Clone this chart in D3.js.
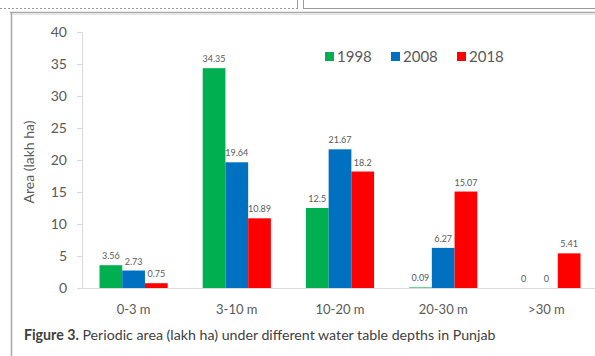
<!DOCTYPE html>
<html>
<head>
<meta charset="utf-8">
<script src="https://cdn.jsdelivr.net/npm/d3@7/dist/d3.min.js"></script>
<style>
  html, body { margin: 0; padding: 0; background: #fff; }
  svg { display: block; }
</style>
</head>
<body>
<svg id="chart" width="595" height="356"></svg>
<script>
// Water table depth classes and area (lakh ha) per survey year
const depths = ["0-3 m", "3-10 m", "10-20 m", "20-30 m", ">30 m"];
const years = ["1998", "2008", "2018"];
const area1998 = [3.56, 34.35, 12.5, 0.09, 0];
const area2008 = [2.73, 19.64, 21.67, 6.27, 0];
const area2018 = [0.75, 10.89, 18.2, 15.07, 5.41];
const yTicks = [0, 5, 10, 15, 20, 25, 30, 35, 40];
const seriesColors = ["#00b050", "#0070c0", "#ff0000"];

const values = [area1998, area2008, area2018];
const rows = depths.map((d, i) => ({
  depth: d,
  bars: years.map((y, j) => ({ year: y, value: values[j][i], color: seriesColors[j] }))
}));

const svg = d3.select("#chart");
const font = "Lato, 'Open Sans', sans-serif";

// page frame lines
const frame = svg.append("g").attr("fill", "none");
frame.append("line").attr("x1", 0).attr("x2", 297).attr("y1", 8.5).attr("y2", 8.5)
  .attr("stroke", "#9a9a9a").attr("stroke-dasharray", "2,2");
frame.append("line").attr("x1", 297.5).attr("x2", 297.5).attr("y1", 0).attr("y2", 9)
  .attr("stroke", "#9a9a9a");
frame.append("line").attr("x1", 303.5).attr("x2", 303.5).attr("y1", 0).attr("y2", 9)
  .attr("stroke", "#9a9a9a");
frame.append("line").attr("x1", 303).attr("x2", 595).attr("y1", 8.5).attr("y2", 8.5)
  .attr("stroke", "#9a9a9a");
frame.append("line").attr("x1", 10).attr("x2", 595).attr("y1", 12.5).attr("y2", 12.5)
  .attr("stroke", "#a8a8a8").attr("stroke-width", 1.5);
frame.append("line").attr("x1", 10).attr("x2", 595).attr("y1", 14.5).attr("y2", 14.5)
  .attr("stroke", "#e4e4e4");
frame.append("line").attr("x1", 11.5).attr("x2", 11.5).attr("y1", 12).attr("y2", 356)
  .attr("stroke", "#a8a8a8").attr("stroke-width", 1.5);

// scales
const y = d3.scaleLinear().domain([0, 40]).range([288, 32]);
const x0 = d3.scaleBand().domain(depths).range([82, 598]).padding(0);
const x1 = d3.scaleBand().domain(years).range([17.5, x0.bandwidth() - 17.5]).padding(0);

// y axis
const yAxis = svg.append("g").attr("transform", "translate(82,0)")
  .call(d3.axisLeft(y).tickValues(yTicks).tickSize(5).tickPadding(10));
yAxis.select(".domain").attr("stroke", "#d9d9d9");
yAxis.selectAll(".tick line").attr("stroke", "#d9d9d9");
yAxis.selectAll(".tick text").attr("fill", "#595959").attr("font-size", 14).attr("font-family", font);

// x axis
const xAxis = svg.append("g").attr("transform", "translate(0,288)")
  .call(d3.axisBottom(x0).tickSize(0).tickPadding(17));
xAxis.select(".domain").attr("stroke", "#d9d9d9");
xAxis.selectAll(".tick text").attr("fill", "#595959").attr("font-size", 13).attr("font-family", font);

// bars
const groups = svg.append("g").selectAll("g").data(rows).join("g")
  .attr("transform", d => `translate(${x0(d.depth)},0)`);
groups.selectAll("rect").data(d => d.bars).join("rect")
  .attr("x", d => x1(d.year))
  .attr("width", x1.bandwidth())
  .attr("y", d => y(d.value))
  .attr("height", d => y(0) - y(d.value))
  .attr("fill", d => d.color);
groups.selectAll("text").data(d => d.bars).join("text")
  .attr("x", d => x1(d.year) + x1.bandwidth() / 2)
  .attr("y", d => y(d.value) - 6)
  .attr("text-anchor", "middle")
  .attr("font-size", 9)
  .attr("font-family", font)
  .attr("fill", "#595959")
  .text(d => d.value);

// axis title
svg.append("text")
  .attr("transform", "translate(34,162) rotate(-90)")
  .attr("text-anchor", "middle")
  .attr("font-size", 14)
  .attr("font-family", font)
  .attr("fill", "#595959")
  .text("Area (lakh ha)");

// legend
const legend = svg.append("g").selectAll("g").data(years).join("g")
  .attr("transform", (d, i) => `translate(${325 + i * 66},52)`);
legend.append("rect").attr("width", 9).attr("height", 9).attr("fill", (d, i) => seriesColors[i]);
legend.append("text").attr("x", 12).attr("y", 9.5)
  .attr("font-size", 15).attr("font-family", font).attr("fill", "#595959")
  .text(d => d);

// caption
const cap = svg.append("text").attr("x", 24).attr("y", 340)
  .attr("font-size", 14.2).attr("font-family", font).attr("fill", "#404040");
cap.append("tspan").attr("font-weight", "bold").text("Figure 3.");
cap.append("tspan").text(" Periodic area (lakh ha) under different water table depths in Punjab");
</script>
</body>
</html>
